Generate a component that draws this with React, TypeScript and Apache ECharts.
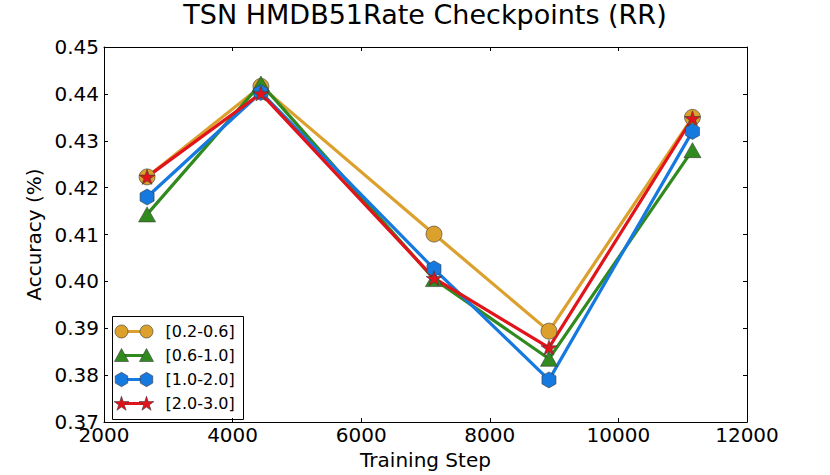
import React, { useEffect, useRef } from 'react';
import * as echarts from 'echarts';

const steps = [2670, 4440, 7132, 8920, 11152];
const acc02to06 = [0.4223, 0.4416, 0.4101, 0.3894, 0.435];
const acc06to10 = [0.4143, 0.4422, 0.4005, 0.3835, 0.428];
const acc10to20 = [0.418, 0.4403, 0.4027, 0.379, 0.432];
const acc20to30 = [0.4223, 0.4401, 0.4007, 0.3859, 0.4348];
const seriesNames = ['[0.2-0.6]', '[0.6-1.0]', '[1.0-2.0]', '[2.0-3.0]'];
const xMin = 2000;
const xMax = 12000;
const xStep = 2000;
const yMin = 0.37;
const yMax = 0.45;
const yStep = 0.01;
const titleText = 'TSN HMDB51Rate Checkpoints (RR)';
const xName = 'Training Step';
const yName = 'Accuracy (%)';

const COLORS = ['#DCA02C', '#318A1E', '#1679E0', '#E2141B'];
const EDGE = '#3a3a3a';
const FONT = 'DejaVu Sans';

const HEX = 'path://M0,-1 L0.866,-0.5 L0.866,0.5 L0,1 L-0.866,0.5 L-0.866,-0.5 Z';
const STAR =
  'path://M0,-1 L0.2233,-0.3074 L0.951,-0.309 L0.3614,0.1174 L0.588,0.809 L0,0.38 L-0.588,0.809 L-0.3614,0.1174 L-0.951,-0.309 L-0.2233,-0.3074 Z';

function starPoints(cx: number, cy: number, r: number): number[][] {
  const pts: number[][] = [];
  for (let k = 0; k < 10; k++) {
    const a = ((-90 + k * 36) * Math.PI) / 180;
    const rr = k % 2 === 0 ? r : r * 0.38;
    pts.push([cx + rr * Math.cos(a), cy + rr * Math.sin(a)]);
  }
  return pts;
}
function hexPoints(cx: number, cy: number, r: number): number[][] {
  const pts: number[][] = [];
  for (let k = 0; k < 6; k++) {
    const a = ((-90 + k * 60) * Math.PI) / 180;
    pts.push([cx + r * Math.cos(a), cy + r * Math.sin(a)]);
  }
  return pts;
}
function triPoints(cx: number, cy: number, w: number, h: number): number[][] {
  return [
    [cx, cy - h / 2],
    [cx + w / 2, cy + h / 2],
    [cx - w / 2, cy + h / 2],
  ];
}

function legendMarker(i: number, cx: number, cy: number): any {
  const style = { fill: COLORS[i], stroke: EDGE, lineWidth: 0.6 };
  if (i === 0) return { type: 'circle', shape: { cx, cy, r: 6.5 }, style };
  if (i === 1) return { type: 'polygon', shape: { points: triPoints(cx, cy - 0.5, 14, 13) }, style };
  if (i === 2) return { type: 'polygon', shape: { points: hexPoints(cx, cy, 7.2) }, style };
  return { type: 'polygon', shape: { points: starPoints(cx, cy + 0.5, 7.8) }, style };
}

export default function App() {
  const ref = useRef<HTMLDivElement>(null);
  useEffect(() => {
    document.body.style.margin = '0';
    if (!ref.current) return;
    const chart = echarts.init(ref.current, undefined, { renderer: 'svg' });
    const allData = [acc02to06, acc06to10, acc10to20, acc20to30];
    const symbols = ['circle', 'triangle', HEX, STAR];
    const sizes: any[] = [16, [17, 15], [14, 16], [16, 15]];

    const series = allData.map((vals, i) => ({
      name: seriesNames[i],
      type: 'line',
      data: steps.map((s, j) => [s, vals[j]]),
      symbol: symbols[i],
      symbolSize: sizes[i],
      showAllSymbol: true,
      lineStyle: { color: COLORS[i], width: 3.2 },
      itemStyle: { color: COLORS[i], borderColor: EDGE, borderWidth: 0.6 },
      emphasis: { disabled: true },
      z: 2,
    }));

    const lx = 112;
    const ly = 316;
    const rowY = [15, 39, 63, 87];
    const legendChildren: any[] = [
      { type: 'rect', shape: { x: 0, y: 0, width: 131, height: 103 }, style: { fill: '#fff', stroke: '#000', lineWidth: 1 } },
    ];
    rowY.forEach((y, i) => {
      legendChildren.push({
        type: 'line',
        shape: { x1: 9, y1: y, x2: 34, y2: y },
        style: { stroke: COLORS[i], lineWidth: 3 },
      });
      legendChildren.push(legendMarker(i, 9, y));
      legendChildren.push(legendMarker(i, 34, y));
      legendChildren.push({
        type: 'text',
        x: 53,
        y,
        style: {
          text: seriesNames[i],
          font: `16px "${FONT}"`,
          fill: '#000',
          verticalAlign: 'middle',
          align: 'left',
        },
      });
    });

    const axisCommon = {
      type: 'value',
      axisLine: { show: true, lineStyle: { color: '#000', width: 1 } },
      axisTick: { show: true, inside: true, length: 4, lineStyle: { color: '#000', width: 1 } },
      splitLine: { show: false },
    };

    chart.setOption({
      animation: false,
      backgroundColor: '#fff',
      title: {
        text: titleText,
        left: 425,
        textAlign: 'center',
        top: 1,
        padding: 0,
        textStyle: { fontFamily: FONT, fontSize: 27, fontWeight: 'normal', color: '#000' },
      },
      grid: { left: 104, right: 83, top: 47, bottom: 48 },
      xAxis: [
        {
          ...axisCommon,
          min: xMin,
          max: xMax,
          interval: xStep,
          position: 'bottom',
          name: xName,
          nameLocation: 'middle',
          nameGap: 24,
          nameTextStyle: { fontFamily: FONT, fontSize: 20, color: '#000' },
          axisLabel: {
            fontFamily: FONT,
            fontSize: 20,
            color: '#000',
            margin: 3,
            formatter: (v: number) => String(v),
          },
        },
        {
          ...axisCommon,
          min: xMin,
          max: xMax,
          interval: xStep,
          position: 'top',
          axisLabel: { show: false },
        },
      ],
      yAxis: [
        {
          ...axisCommon,
          min: yMin,
          max: yMax,
          interval: yStep,
          position: 'left',
          name: yName,
          nameLocation: 'middle',
          nameGap: 50,
          nameTextStyle: { fontFamily: FONT, fontSize: 20, color: '#000' },
          axisLabel: {
            fontFamily: FONT,
            fontSize: 20,
            color: '#000',
            margin: 5,
            formatter: (v: number) => v.toFixed(2),
          },
        },
        {
          ...axisCommon,
          min: yMin,
          max: yMax,
          interval: yStep,
          position: 'right',
          axisLabel: { show: false },
        },
      ],
      series,
      graphic: [{ type: 'group', left: lx, top: ly, z: 100, children: legendChildren }],
    });
    return () => chart.dispose();
  }, []);
  return <div ref={ref} style={{ width: 830, height: 475 }} />;
}
